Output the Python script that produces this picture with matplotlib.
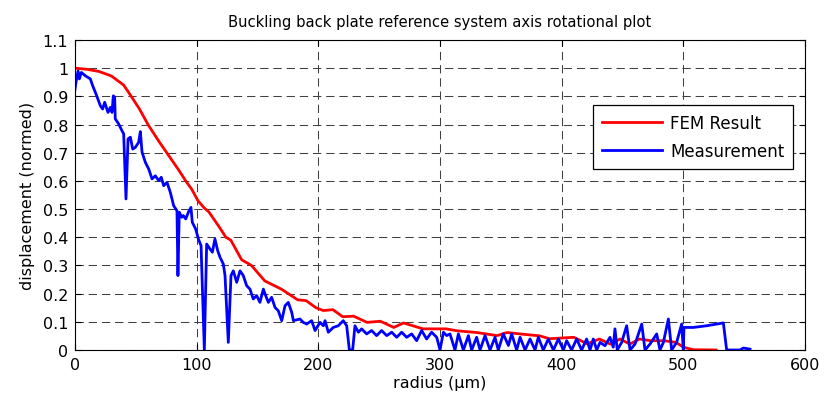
import matplotlib
matplotlib.use('Agg')
import matplotlib.pyplot as plt

# FEM result (red)
fem_r = [0, 10, 20, 30, 40, 45, 53, 60, 69, 77, 85, 91, 96, 101, 106, 110, 118, 124, 128,
         137, 145, 156, 164, 170, 177, 183, 190, 198, 204, 212, 220, 229, 240, 251, 262, 270,
         286, 305, 314, 330, 347, 355, 368, 382, 390, 410, 421, 431, 440, 448, 456, 464, 473,
         484, 494, 500, 508, 527]
fem_d = [1.0, 0.996, 0.988, 0.972, 0.94, 0.908, 0.855, 0.80, 0.74, 0.69, 0.64, 0.60, 0.57,
         0.53, 0.505, 0.49, 0.44, 0.40, 0.39, 0.32, 0.30, 0.245, 0.228, 0.215, 0.195, 0.178,
         0.175, 0.15, 0.14, 0.143, 0.118, 0.12, 0.098, 0.102, 0.08, 0.096, 0.075, 0.075, 0.068,
         0.062, 0.051, 0.062, 0.056, 0.05, 0.04, 0.045, 0.022, 0.039, 0.021, 0.039, 0.021,
         0.039, 0.033, 0.033, 0.027, 0.01, 0.001, 0.0]

# measurement (blue)
meas_r = [0, 0.8, 2.5, 3.6, 5.2, 8.5, 12.6, 14.5, 17.3, 20.8, 22.7, 24.4, 27.1, 29, 30.4,
          31.5, 32.6, 33.1, 35.9, 38.6, 40, 41.9, 43.6, 45.5, 47.4, 49.6, 52.3, 53.7, 55.1,
          57.8, 60.6, 63.3, 66, 68.8, 70.9, 72.9, 75.6, 78.3, 81.1, 83.8, 84.6, 85.7, 87.7,
          89, 91, 93.2, 95.3, 96.4, 99.2, 101.4, 103.6, 106.3, 108.2, 111, 112.9, 115, 117.3,
          119.2, 121.9, 123.3, 126, 128.2, 130.1, 132.9, 135.6, 138.3, 141.1, 143.8, 146.5,
          149.3, 152, 154.8, 156.7, 158.9, 161.6, 164.4, 167.1, 169.9, 172.6, 175.3, 178.1,
          179.5, 184.9, 187.6, 190.4, 194.5, 197.3, 201.4, 204.1, 205.5, 208.2, 212.3, 216.4,
          220.5, 223.3, 225.5, 228.2, 230.1, 232.9, 235.6, 239.7, 243.8, 247.9, 252, 256.2,
          260.3, 264.4, 268.5, 272.6, 276.7, 280.8, 284.9, 289, 293.1, 297.3, 300, 302.8,
          305.5, 308.2, 312.3, 315.1, 319.2, 323.3, 326, 330.1, 332.9, 337, 341.1, 345.2,
          347.9, 352, 356.2, 358.9, 363, 365.8, 369.9, 374, 378.1, 380.8, 384.9, 389, 393.2,
          397.3, 401.4, 404.1, 408.2, 412.3, 416.4, 420.5, 423.3, 426, 428.8, 431.5, 435.6,
          439.7, 442.4, 443.8, 445.7, 449.3, 453.4, 456.2, 460.3, 465.8, 468.5, 472.6, 478.1,
          480.8, 483.6, 487.7, 490.4, 494.5, 498.6, 500, 500.5, 508.2, 519.2, 532.9, 535.6,
          546.6, 549.3, 554.8]
meas_d = [0.925, 0.95, 0.99, 0.962, 0.985, 0.973, 0.962, 0.938, 0.908, 0.867, 0.855, 0.879,
          0.843, 0.861, 0.843, 0.902, 0.897, 0.82, 0.802, 0.778, 0.767, 0.536, 0.749, 0.755,
          0.713, 0.719, 0.737, 0.775, 0.702, 0.666, 0.642, 0.607, 0.618, 0.601, 0.613, 0.583,
          0.595, 0.56, 0.512, 0.494, 0.264, 0.489, 0.471, 0.477, 0.465, 0.489, 0.506, 0.453,
          0.429, 0.394, 0.37, 0.0, 0.376, 0.358, 0.347, 0.394, 0.352, 0.329, 0.305, 0.264,
          0.027, 0.264, 0.281, 0.24, 0.281, 0.264, 0.228, 0.216, 0.181, 0.193, 0.169, 0.216,
          0.193, 0.169, 0.187, 0.151, 0.139, 0.104, 0.157, 0.169, 0.134, 0.104, 0.11, 0.098,
          0.092, 0.104, 0.069, 0.098, 0.086, 0.104, 0.063, 0.08, 0.086, 0.104, 0.086, 0.0,
          0.0, 0.086, 0.063, 0.075, 0.057, 0.069, 0.051, 0.069, 0.051, 0.063, 0.045, 0.063,
          0.045, 0.057, 0.033, 0.069, 0.039, 0.063, 0.045, 0.0, 0.063, 0.051, 0.057, 0.0,
          0.057, 0.0, 0.051, 0.0, 0.045, 0.0, 0.051, 0.0, 0.045, 0.0, 0.057, 0.016, 0.057,
          0.0, 0.045, 0.0, 0.039, 0.0, 0.045, 0.0, 0.039, 0.0, 0.039, 0.0, 0.033, 0.0, 0.039,
          0.0, 0.039, 0.0, 0.039, 0.0, 0.027, 0.015, 0.045, 0.01, 0.075, 0.0, 0.027, 0.086,
          0.0, 0.021, 0.092, 0.0, 0.021, 0.057, 0.0, 0.027, 0.11, 0.0, 0.027, 0.092, 0.0,
          0.08, 0.08, 0.086, 0.096, 0.0, 0.0, 0.007, 0.003]

x_ticks = [0, 100, 200, 300, 400, 500, 600]
y_ticks = [0, 0.1, 0.2, 0.3, 0.4, 0.5, 0.6, 0.7, 0.8, 0.9, 1, 1.1]
y_labels = ['0', '0.1', '0.2', '0.3', '0.4', '0.5', '0.6', '0.7', '0.8', '0.9', '1', '1.1']

plt.rcParams['font.family'] = ['DejaVu Sans']
plt.rcParams['font.size'] = 11.5
plt.rcParams['lines.scale_dashes'] = False

fig = plt.figure(figsize=(8.27, 4.02), dpi=100)
ax = fig.add_axes([0.0907, 0.1269, 0.8827, 0.7711])

ax.plot(fem_r, fem_d, color='#ff0000', lw=2.0, label='FEM Result')
ax.plot(meas_r, meas_d, color='#0000ff', lw=2.0, label='Measurement')

ax.set_xlim(0, 600)
ax.set_ylim(0, 1.1)
ax.set_xticks(x_ticks)
ax.set_yticks(y_ticks)
ax.set_yticklabels(y_labels)
ax.tick_params(direction='in', top=True, right=True, length=4.5, labelsize=11.5, width=0.8, pad=5)
ax.grid(True, color='0.25', linestyle=(0, (6, 3.5)), linewidth=0.75)
for s in ax.spines.values():
    s.set_linewidth(0.8)

ax.set_title('Buckling back plate reference system axis rotational plot', fontsize=10.6, pad=10)
ax.set_xlabel('radius (\u00b5m)', fontsize=11.5, labelpad=2)
ax.set_ylabel('displacement (normed)', fontsize=11.5, labelpad=5)

leg = ax.legend(loc='upper right', bbox_to_anchor=(0.984, 0.79), borderaxespad=0,
                fontsize=12, fancybox=False, framealpha=1, edgecolor='black',
                handlelength=3.6, handletextpad=0.45, borderpad=0.55, labelspacing=0.6)
leg.get_frame().set_linewidth(0.9)

fig.savefig('out.png', dpi=100)
